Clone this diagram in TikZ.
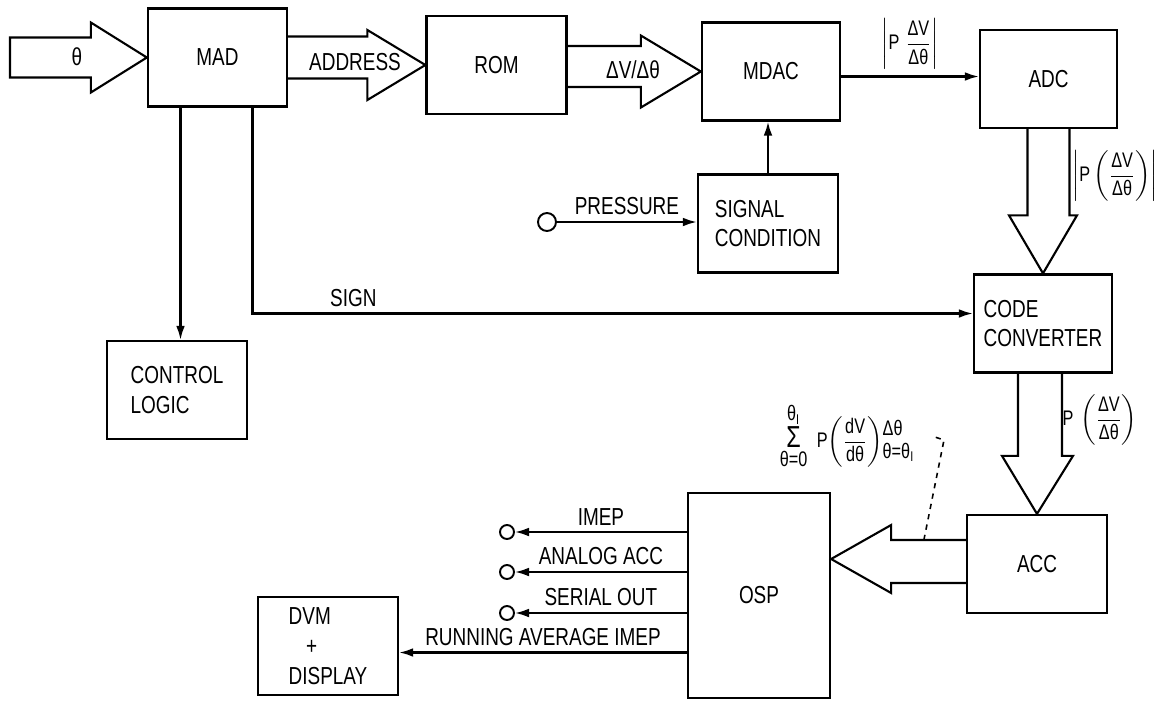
\documentclass[tikz,border=0pt]{standalone}
\usepackage{amsmath}
\usepackage{fontspec}
\setmainfont[FakeStretch=0.77]{Liberation Sans}
\usetikzlibrary{arrows.meta,calc}

\tikzset{
  blk/.style={draw,line width=1.3pt,minimum width=2.8cm,minimum height=1.96cm,inner sep=0pt,align=left},
  fat/.style={line width=1.2pt,line join=miter},
  sig/.style={line width=1.2pt,-{Latex[length=8pt,width=5pt]}},
  term/.style={draw,circle,line width=1.1pt,minimum size=0.28cm,inner sep=0pt},
  eqn/.style={font=\fontsize{12}{14}\selectfont},
}

\begin{document}
\begin{tikzpicture}[x=0.02cm,y=-0.02cm,font=\fontsize{14}{17}\selectfont]
    \useasboundingbox (0,0) rectangle (1164,701);

    % blocks
    \node[blk,minimum width=2.78cm] (MAD) at (217.5,57.5) {MAD};
    \node[blk] (ROM) at (496.5,65) {ROM};
    \node[blk,minimum width=2.76cm] (MDAC) at (771,71.5) {MDAC};
    \node[blk,minimum width=2.74cm] (ADC) at (1048.5,79) {ADC};
    \node[blk] (SC) at (768,223.5) {SIGNAL\\CONDITION};
    \node[blk,minimum width=2.76cm] (CC) at (1043,323.5) {CODE\\CONVERTER};
    \node[blk] (CL) at (177,390) {CONTROL\\LOGIC};
    \node[blk] (ACC) at (1037,564) {ACC};
    \node[blk,minimum width=2.84cm,minimum height=4.1cm] (OSP) at (759,595.5) {OSP};
    \node[blk] (DVM) at (328,646) {DVM\\\hspace*{0.35cm}+\\DISPLAY};

    % wide buses
    \coordinate (thin) at (10,57.5);
    \draw[fat] ($(thin)+(0,-20)$) -| ($(MAD.west)+(-56,-35)$) -- (MAD.west)
      -- ($(MAD.west)+(56*-1,35)$) |- ($(thin)+(0,20)$) -- cycle;
    \node at (77,57) {θ};

    \draw[fat] ($(MAD.east)+(0,-21)$) -| ($(ROM.west)+(-58,-35)$) -- (ROM.west)
      -- ($(ROM.west)+(-58,35)$) |- ($(MAD.east)+(0,21)$);
    \node at (355,62) {ADDRESS};

    \draw[fat] ($(ROM.east)+(0,-19)$) -| ($(MDAC.west)+(-60,-36)$) -- (MDAC.west)
      -- ($(MDAC.west)+(-60,36)$) |- ($(ROM.east)+(0,22)$);
    \node at (633,70) {ΔV/Δθ};

    \draw[fat] ($(ADC.south)+(-21,0)$) |- ($(CC.north)+(-34,-58)$) -- (CC.north)
      -- ($(CC.north)+(34,-58)$) -| ($(ADC.south)+(21,0)$);
    \node[eqn] at (1115,176) {$\left|\text{P}\left(\dfrac{\text{ΔV}}{\text{Δθ}}\right)\right|$};

    \draw[fat] ($(CC.south)+(-25,0)$) |- ($(ACC.north)+(-35,-58)$) -- (ACC.north)
      -- ($(ACC.north)+(36,-58)$) -| ($(CC.south)+(19,0)$);
    \node[eqn] at (1100,420) {$\text{P}\,\left(\dfrac{\text{ΔV}}{\text{Δθ}}\right)$};

    \coordinate (ot) at ($(OSP.east|-ACC.west)+(0,-5)$);
    \draw[fat] ($(ACC.west)+(0,-24)$) -| ($(ot)+(60,-34)$) -- (ot)
      -- ($(ot)+(60,34)$) |- ($(ACC.west)+(0,19)$);

    % accumulated sum note
    \node[eqn] (sum) at (847,436) {$\displaystyle\mathop{\text{\LARGE Σ}}\limits_{\textstyle\text{θ=0}}^{\textstyle\text{θ}_{\text{I}}}\;
      \text{P}\biggl(\frac{\text{dV}}{\text{dθ}}\biggr)
      \begin{array}{@{}l@{}}\text{Δθ}\\[-1pt]\text{θ=θ}_{\text{I}}\end{array}$};
    \coordinate (lead) at (944,440);
    \draw[dashed,line width=0.9pt] ($(ACC.west)+(-42,-24)$) -- (lead) -- ++(-9,-3);

    % signal lines
    \coordinate (mo) at ($(MDAC.east)+(0,5)$);
    \draw[sig] (mo) -- node[eqn,above]{$\left|\text{P}\;\dfrac{\text{ΔV}}{\text{Δθ}}\right|$} (mo -| ADC.west);

    \node[term,minimum size=0.36cm] (pin) at (547,222) {};
    \draw[sig] (pin) -- node[above]{PRESSURE} (pin -| SC.west);
    \draw[sig] (SC.north) -- (SC.north |- MDAC.south);

    \coordinate (mL) at ($(MAD.south)+(-37,0)$);
    \draw[sig] (mL) -- (mL |- CL.north);
    \draw[sig] ($(MAD.south)+(35,0)$) |- node[pos=0.57,above]{SIGN} ($(CC.west)+(0,-10)$);

    % outputs
    \foreach \n/\y/\t in {1/532/IMEP,2/572/ANALOG ACC,3/613/SERIAL OUT}{
      \node[term] (o\n) at (507,\y) {};
      \draw[sig] (o\n -| OSP.west) -- node[above]{\t} (o\n);
    }
    \coordinate (ra) at ($(OSP.west)+(0,57)$);
    \draw[sig] (ra) -- node[above]{RUNNING AVERAGE IMEP} (ra -| DVM.east);
\end{tikzpicture}
\end{document}
